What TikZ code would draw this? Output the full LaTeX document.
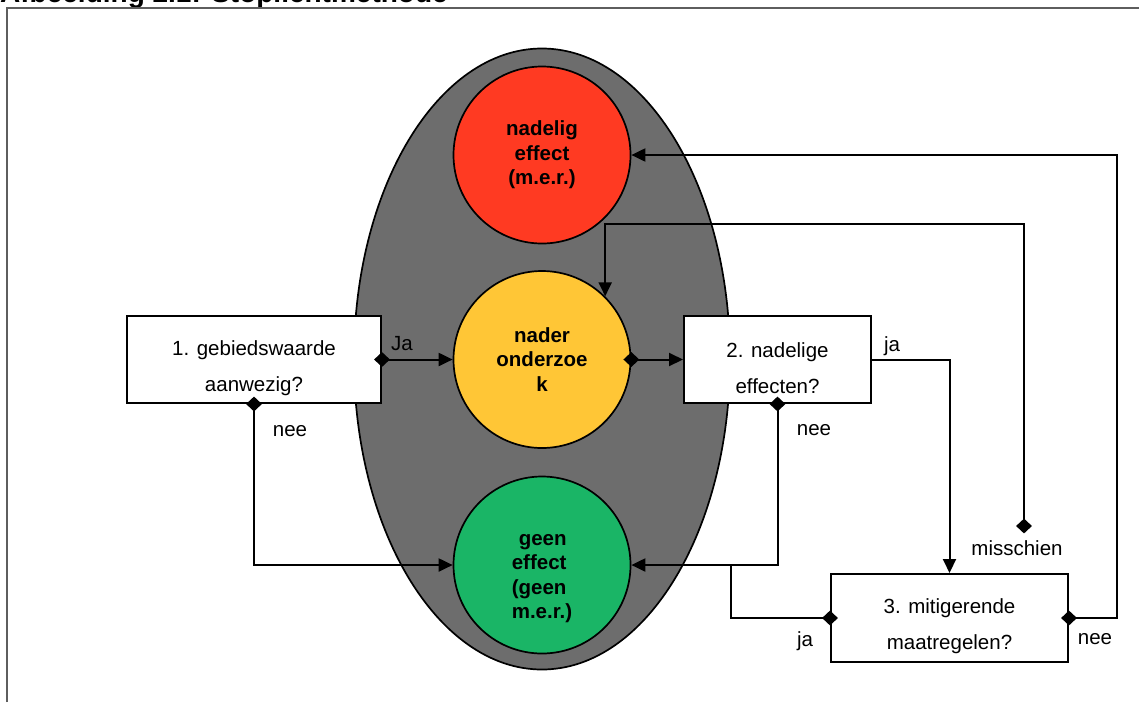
\documentclass[tikz,border=0pt]{standalone}
\usepackage{fontspec}
\setmainfont{Liberation Sans}
\usetikzlibrary{shapes.geometric,arrows.meta}
\definecolor{lampred}{HTML}{FF3A22}
\definecolor{lampyellow}{HTML}{FFC636}
\definecolor{lampgreen}{HTML}{1AB566}
\definecolor{housing}{HTML}{6D6D6D}
\definecolor{framegray}{HTML}{5E5E5E}
\begin{document}
\begin{tikzpicture}[x=1pt,y=-1pt,
  lbl/.style={font=\fontsize{20.5}{24}\selectfont, inner sep=0pt},
  qbox/.style={draw, line width=2pt, fill=white, minimum height=87pt, align=center, font=\fontsize{20.5}{36}\selectfont, inner sep=0pt},
  lamp/.style={circle, draw, line width=1.7pt, minimum size=177pt, inner sep=0pt, align=center, font=\bfseries\fontsize{20.5}{24.5}\selectfont},
  conn/.style={line width=2pt, -{Triangle[length=14pt,width=13pt]}},
  plainline/.style={line width=2pt},
  dmd/.style={diamond, fill=black, minimum width=16pt, minimum height=15pt, inner sep=0pt},
]
\useasboundingbox (0,0) rectangle (1139,702);
% title and frame
\node[anchor=base west, font=\bfseries\fontsize{28}{30}\selectfont, inner sep=0pt] (title) at (0,2) {Afbeelding 2.1: Stoplichtmethode};
\draw[framegray, line width=1.6pt] (7,702) -- (7,8) -- (1139,8);
% traffic light
\node[ellipse, draw, line width=1.7pt, fill=housing, minimum width=376pt, minimum height=621pt, inner sep=0pt] (body) at (542,359) {};
\node[lamp, fill=lampred] (red) at (542,155) {nadelig\\effect\\(m.e.r.)};
\node[lamp, fill=lampyellow] (yellow) at (542,359.5) {nader\\onderzoe\\k};
\node[lamp, fill=lampgreen, align=left] (green) at (542,565) {\rule{0pt}{38pt}\hspace{7pt}geen\\effect\\(geen\\m.e.r.)};
% questions
\node[qbox, minimum width=254pt] (q1) at (254,359.5) {\rule{0pt}{32pt}1. gebiedswaarde\\aanwezig?};
\node[qbox, minimum width=187pt] (q2) at (777.5,359.5) {\rule{0pt}{32pt}2. nadelige\\effecten?};
\node[qbox, minimum width=237pt, minimum height=88pt] (q3) at (949.5,618) {\rule{0pt}{31pt}3. mitigerende\\maatregelen?};
% free ends
\coordinate (mis) at (1024,526);
\coordinate (join) at (731,565);
% connectors
\draw[conn] (q1.east) -- (yellow.west);
\draw[conn] (yellow.east) -- (q2.west);
\draw[conn] (q1.south) |- (green.west);
\draw[conn] (q2.south) |- (green.east);
\draw[conn] (q2.east) -| (q3.north);
\draw[plainline] (q3.west) -| (join);
\draw[conn] (q3.east) -- ++(48,0) |- (red.east);
\draw[conn] (mis) -- (mis |- 0,224) -| (yellow.45.5);
% diamonds
\node[dmd] (d1) at (q1.east) {};
\node[dmd] (d2) at (yellow.east) {};
\node[dmd] (d3) at (q1.south) {};
\node[dmd] (d4) at (q2.south) {};
\node[dmd] (d5) at (q3.west) {};
\node[dmd] (d6) at (q3.east) {};
\node[dmd] (d7) at (mis) {};
% labels
\node[lbl] (l1) at (402,344) {Ja};
\node[lbl] (l2) at (290,431) {nee};
\node[lbl] (l3) at (814,430) {nee};
\node[lbl] (l4) at (892,346) {ja};
\node[lbl] (l5) at (1017,548) {misschien};
\node[lbl] (l6) at (805,641) {ja};
\node[lbl] (l7) at (1095,639) {nee};
\end{tikzpicture}
\end{document}
